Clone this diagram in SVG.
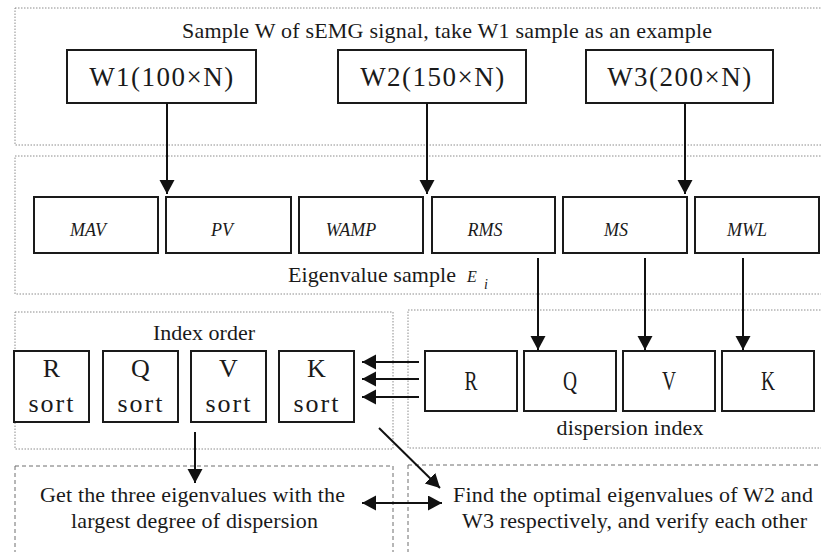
<svg xmlns="http://www.w3.org/2000/svg" width="821" height="552" viewBox="0 0 821 552">
<style>
  .bg { fill: #ffffff; }
  .frame { fill: none; stroke: #8c8c8c; stroke-width: 1; stroke-dasharray: 1.5 1.5; }
  .dframe { fill: none; stroke: #6e6e6e; stroke-width: 1; stroke-dasharray: 4 3; }
  .box { fill: #ffffff; stroke: #1a1a1a; stroke-width: 2; }
  .t { font-family: "Liberation Serif", "Times New Roman", serif; fill: #1a1a1a; font-size: 22px; }
  .w { font-size: 27px; letter-spacing: 1.5px; }
  .s { font-size: 26px; }
  .ti { font-family: "Liberation Serif", "Times New Roman", serif; font-style: italic; fill: #1a1a1a; font-size: 18px; }
  .line { stroke: #111; stroke-width: 2; fill: none; }
</style>
<defs>
  <marker id="arr" markerUnits="userSpaceOnUse" markerWidth="16" markerHeight="16" refX="14" refY="7.5" orient="auto-start-reverse">
    <path d="M0,0 L14,7.5 L0,15 z" fill="#111"/>
  </marker>
</defs>
<rect class="bg" x="0" y="0" width="821" height="552"/>

<g id="frames">
  <rect class="frame" x="15" y="8" width="810" height="137"/>
  <rect class="frame" x="15" y="156" width="810" height="138"/>
  <rect class="frame" x="15" y="312" width="378" height="137"/>
  <rect class="frame" x="408" y="310" width="420" height="138"/>
  <rect class="dframe" x="15" y="466" width="378" height="100"/>
  <rect class="dframe" x="408" y="465" width="420" height="100"/>
</g>

<g id="title">
  <text class="t" x="447" y="38" text-anchor="middle" textLength="530" lengthAdjust="spacing">Sample W of sEMG signal, take W1 sample as an example</text>
</g>

<g id="w1">
  <rect class="box" x="67" y="50" width="189" height="53"/>
  <text class="t w" x="162" y="86" text-anchor="middle">W1(100×N)</text>
</g>
<g id="w2">
  <rect class="box" x="338" y="50" width="188" height="53"/>
  <text class="t w" x="433" y="86" text-anchor="middle">W2(150×N)</text>
</g>
<g id="w3">
  <rect class="box" x="586" y="50" width="187" height="53"/>
  <text class="t w" x="680" y="86" text-anchor="middle">W3(200×N)</text>
</g>

<g id="mav"><rect class="box" x="34" y="197" width="124" height="56"/><text class="ti" x="88" y="236" text-anchor="middle">MAV</text></g>
<g id="pv"><rect class="box" x="166" y="197" width="125" height="56"/><text class="ti" x="222" y="236" text-anchor="middle">PV</text></g>
<g id="wamp"><rect class="box" x="299" y="197" width="124" height="56"/><text class="ti" x="351" y="236" text-anchor="middle">WAMP</text></g>
<g id="rms"><rect class="box" x="432" y="197" width="123" height="56"/><text class="ti" x="485" y="236" text-anchor="middle">RMS</text></g>
<g id="ms"><rect class="box" x="563" y="197" width="124" height="56"/><text class="ti" x="616" y="236" text-anchor="middle">MS</text></g>
<g id="mwl"><rect class="box" x="695" y="197" width="124" height="56"/><text class="ti" x="747" y="236" text-anchor="middle">MWL</text></g>

<g id="eigen-label">
  <text class="t" x="288" y="282" textLength="168" lengthAdjust="spacing">Eigenvalue sample</text>
  <text class="ti" x="467" y="282" style="font-size:16px">E</text>
  <text class="ti" x="484" y="289" style="font-size:14px">i</text>
</g>

<g id="index-order-label">
  <text class="t" x="204" y="340" text-anchor="middle" textLength="102" lengthAdjust="spacing">Index order</text>
</g>
<g id="r-sort"><rect class="box" x="14" y="351" width="75" height="71"/><text class="t s" x="51.5" y="377" text-anchor="middle">R</text><text class="t s" x="51" y="412" text-anchor="middle" textLength="45" lengthAdjust="spacing">sort</text></g>
<g id="q-sort"><rect class="box" x="103" y="351" width="75" height="71"/><text class="t s" x="140.5" y="377" text-anchor="middle">Q</text><text class="t s" x="140" y="412" text-anchor="middle" textLength="45" lengthAdjust="spacing">sort</text></g>
<g id="v-sort"><rect class="box" x="191" y="351" width="75" height="71"/><text class="t s" x="228.5" y="377" text-anchor="middle">V</text><text class="t s" x="228" y="412" text-anchor="middle" textLength="45" lengthAdjust="spacing">sort</text></g>
<g id="k-sort"><rect class="box" x="279" y="351" width="75" height="71"/><text class="t s" x="316.5" y="377" text-anchor="middle">K</text><text class="t s" x="316" y="412" text-anchor="middle" textLength="45" lengthAdjust="spacing">sort</text></g>

<g id="disp-r"><rect class="box" x="425" y="351" width="92" height="60"/><text class="t" transform="translate(471,390) scale(0.72,1)" style="font-size:27px" text-anchor="middle">R</text></g>
<g id="disp-q"><rect class="box" x="524" y="351" width="92" height="60"/><text class="t" transform="translate(570,390) scale(0.72,1)" style="font-size:27px" text-anchor="middle">Q</text></g>
<g id="disp-v"><rect class="box" x="623" y="351" width="92" height="60"/><text class="t" transform="translate(669,390) scale(0.72,1)" style="font-size:27px" text-anchor="middle">V</text></g>
<g id="disp-k"><rect class="box" x="722" y="351" width="92" height="60"/><text class="t" transform="translate(768,390) scale(0.72,1)" style="font-size:27px" text-anchor="middle">K</text></g>

<g id="dispersion-label">
  <text class="t" x="630" y="435" text-anchor="middle" textLength="147" lengthAdjust="spacing">dispersion index</text>
</g>

<g id="result-left">
  <text class="t" x="192.5" y="502" text-anchor="middle" textLength="305" lengthAdjust="spacing">Get the three eigenvalues with the</text>
  <text class="t" x="194.5" y="528" text-anchor="middle" textLength="247" lengthAdjust="spacing">largest degree of dispersion</text>
</g>
<g id="result-right">
  <text class="t" x="633" y="502" text-anchor="middle" textLength="360" lengthAdjust="spacing">Find the optimal eigenvalues of W2 and</text>
  <text class="t" x="634.5" y="528" text-anchor="middle" textLength="345" lengthAdjust="spacing">W3 respectively, and verify each other</text>
</g>

<g id="connectors">
  <line class="line" x1="167" y1="103" x2="167" y2="194" marker-end="url(#arr)"/>
  <line class="line" x1="427" y1="103" x2="427" y2="194" marker-end="url(#arr)"/>
  <line class="line" x1="685" y1="103" x2="685" y2="194" marker-end="url(#arr)"/>
  <line class="line" x1="538" y1="258" x2="538" y2="350" marker-end="url(#arr)"/>
  <line class="line" x1="645" y1="258" x2="645" y2="350" marker-end="url(#arr)"/>
  <line class="line" x1="743" y1="258" x2="743" y2="350" marker-end="url(#arr)"/>
  <line class="line" x1="419" y1="362" x2="362" y2="362" marker-end="url(#arr)"/>
  <line class="line" x1="419" y1="379" x2="362" y2="379" marker-end="url(#arr)"/>
  <line class="line" x1="419" y1="397" x2="362" y2="397" marker-end="url(#arr)"/>
  <line class="line" x1="195" y1="432" x2="195" y2="483" marker-end="url(#arr)"/>
  <line class="line" x1="379" y1="428" x2="440" y2="488" marker-end="url(#arr)"/>
  <line class="line" x1="362" y1="503" x2="442" y2="503" marker-start="url(#arr)" marker-end="url(#arr)"/>
</g>
</svg>
